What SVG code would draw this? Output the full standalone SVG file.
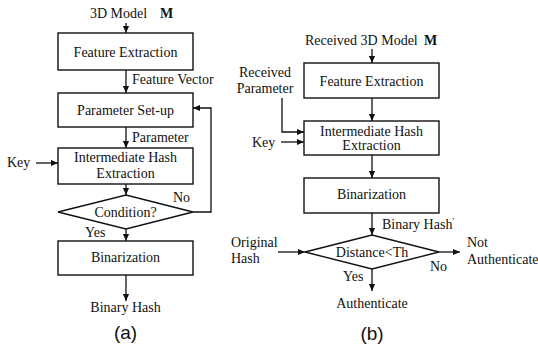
<svg xmlns="http://www.w3.org/2000/svg" width="538" height="346" viewBox="0 0 538 346">
  <style>
    .box { fill: #fff; stroke: #111; stroke-width: 1.4; }
    .wire { fill: none; stroke: #111; stroke-width: 1.3; }
    .t { font-family: "Liberation Serif", "Times New Roman", serif; font-size: 14px; fill: #111; }
    .c { text-anchor: middle; }
    .m { font-weight: bold; }
    .cap { font-family: "Liberation Sans", Arial, sans-serif; font-size: 19px; fill: #111; text-anchor: middle; }
  </style>
  <defs>
    <marker id="ah" viewBox="0 0 8 8" refX="8" refY="4" markerWidth="7" markerHeight="7" markerUnits="userSpaceOnUse" orient="auto">
      <path d="M0,0.5 L8,4 L0,7.5 Z" fill="#111"/>
    </marker>
  </defs>
  <rect width="538" height="346" fill="#fff"/>

  <!-- (a) hash generation -->
  <g id="a-input">
    <text class="t" x="90" y="18">3D Model</text>
    <text class="t m" x="160" y="18">M</text>
  </g>
  <g id="a-feature">
    <rect class="box" x="58" y="33" width="135" height="37"/>
    <text class="t c" x="125.5" y="57">Feature Extraction</text>
  </g>
  <g id="a-param">
    <rect class="box" x="58" y="93" width="135" height="34"/>
    <text class="t c" x="125.5" y="115">Parameter Set-up</text>
  </g>
  <g id="a-ihe">
    <rect class="box" x="58" y="148" width="135" height="36"/>
    <text class="t c" x="125.5" y="162">Intermediate Hash</text>
    <text class="t c" x="125.5" y="178">Extraction</text>
  </g>
  <g id="a-key">
    <text class="t" x="7" y="167">Key</text>
  </g>
  <g id="a-cond">
    <polygon class="box" points="58,212 126,195 193,212 126,229"/>
    <text class="t c" x="125.5" y="217">Condition?</text>
  </g>
  <g id="a-bin">
    <rect class="box" x="58" y="241" width="135" height="34"/>
    <text class="t c" x="125.5" y="262">Binarization</text>
  </g>
  <g id="a-output">
    <text class="t c" x="125.5" y="312">Binary Hash</text>
  </g>
  <text class="cap" x="125.5" y="339">(a)</text>

  <!-- (b) authentication -->
  <g id="b-input">
    <text class="t" x="305" y="45">Received 3D Model</text>
    <text class="t m" x="424" y="45">M</text>
  </g>
  <g id="b-feature">
    <rect class="box" x="304" y="63" width="135" height="35"/>
    <text class="t c" x="371.5" y="86">Feature Extraction</text>
  </g>
  <g id="b-recv-param">
    <text class="t c" x="265" y="77">Received</text>
    <text class="t c" x="265" y="93">Parameter</text>
  </g>
  <g id="b-ihe">
    <rect class="box" x="304" y="121" width="135" height="34"/>
    <text class="t c" x="371.5" y="136">Intermediate Hash</text>
    <text class="t c" x="371.5" y="150">Extraction</text>
  </g>
  <g id="b-key">
    <text class="t" x="252" y="147">Key</text>
  </g>
  <g id="b-bin">
    <rect class="box" x="304" y="178" width="135" height="35"/>
    <text class="t c" x="371.5" y="199">Binarization</text>
  </g>
  <g id="b-dist">
    <polygon class="box" points="305,252 372,235 439,252 372,269"/>
    <text class="t c" x="372" y="257">Distance&lt;Th</text>
  </g>
  <g id="b-orig">
    <text class="t" x="231" y="247">Original</text>
    <text class="t" x="231" y="263">Hash</text>
  </g>
  <g id="b-reject">
    <text class="t" x="467" y="247">Not</text>
    <text class="t" x="467" y="264">Authenticate</text>
  </g>
  <g id="b-accept">
    <text class="t c" x="372" y="308">Authenticate</text>
  </g>
  <text class="cap" x="372" y="340">(b)</text>

  <!-- connectors -->
  <g id="connectors">
    <line class="wire" x1="126" y1="23" x2="126" y2="33" marker-end="url(#ah)"/>
    <line class="wire" x1="126" y1="70" x2="126" y2="93" marker-end="url(#ah)"/>
    <line class="wire" x1="126" y1="127" x2="126" y2="148" marker-end="url(#ah)"/>
    <line class="wire" x1="36" y1="163" x2="58" y2="163" marker-end="url(#ah)"/>
    <line class="wire" x1="126" y1="184" x2="126" y2="195" marker-end="url(#ah)"/>
    <polyline class="wire" points="193,212 211,212 211,108 193,108" marker-end="url(#ah)"/>
    <line class="wire" x1="126" y1="229" x2="126" y2="241" marker-end="url(#ah)"/>
    <line class="wire" x1="126" y1="275" x2="126" y2="301" marker-end="url(#ah)"/>

    <line class="wire" x1="372" y1="49" x2="372" y2="63" marker-end="url(#ah)"/>
    <line class="wire" x1="372" y1="98" x2="372" y2="121" marker-end="url(#ah)"/>
    <polyline class="wire" points="282,98 282,132 304,132" marker-end="url(#ah)"/>
    <line class="wire" x1="281" y1="142" x2="304" y2="142" marker-end="url(#ah)"/>
    <line class="wire" x1="372" y1="155" x2="372" y2="178" marker-end="url(#ah)"/>
    <line class="wire" x1="372" y1="213" x2="372" y2="235" marker-end="url(#ah)"/>
    <line class="wire" x1="278" y1="252" x2="305" y2="252" marker-end="url(#ah)"/>
    <line class="wire" x1="439" y1="252" x2="460" y2="252" marker-end="url(#ah)"/>
    <line class="wire" x1="372" y1="269" x2="372" y2="291" marker-end="url(#ah)"/>

    <text class="t" x="132" y="84">Feature Vector</text>
    <text class="t" x="132" y="142">Parameter</text>
    <text class="t" x="173" y="202">No</text>
    <text class="t" x="85" y="237">Yes</text>
    <text class="t" x="382" y="229">Binary Hash<tspan font-size="9" dy="-5">'</tspan></text>
    <text class="t" x="430" y="271">No</text>
    <text class="t" x="343" y="281">Yes</text>
  </g>
</svg>
